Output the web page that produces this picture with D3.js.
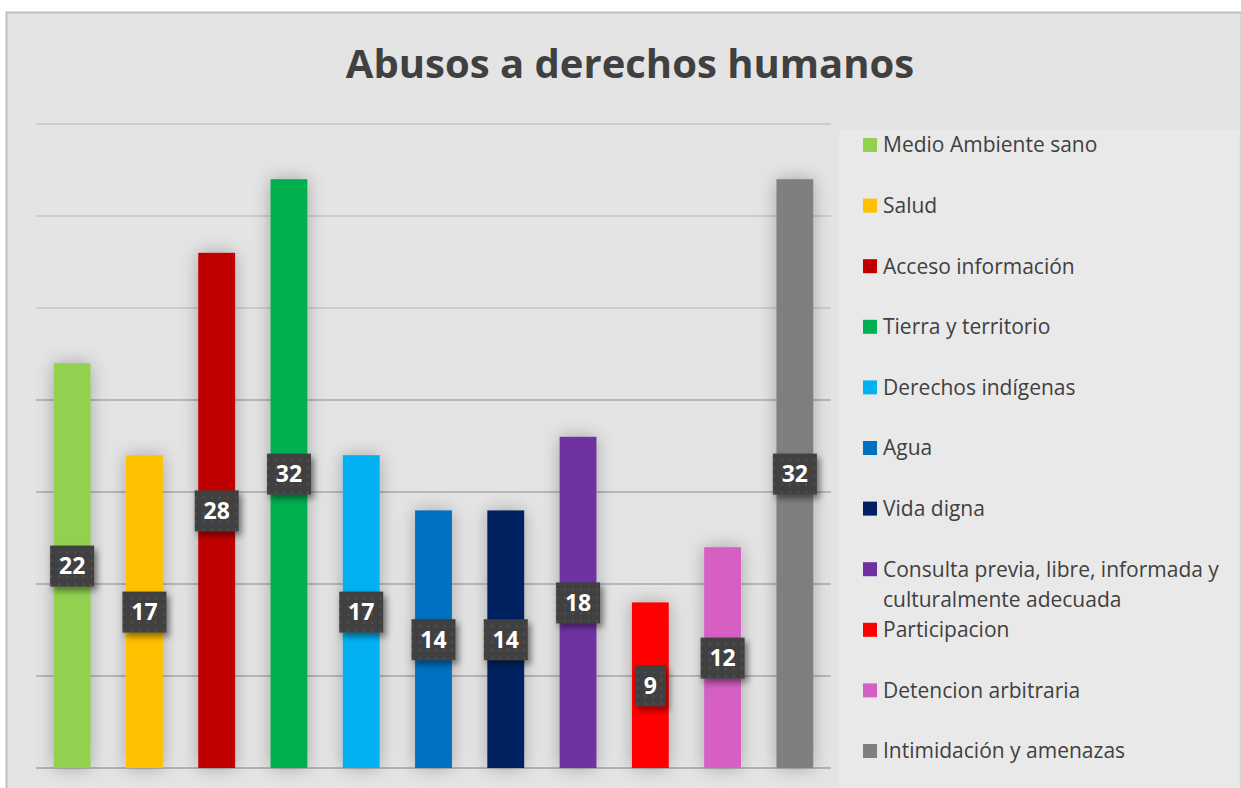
<!DOCTYPE html>
<html>
<head>
<meta charset="utf-8">
<script src="https://cdn.jsdelivr.net/npm/d3@7"></script>
<style>
  html, body { margin: 0; padding: 0; background: #ffffff; }
  svg { display: block; }
</style>
</head>
<body>
<div id="chart"></div>
<script>
// Abusos a derechos humanos - one bar per category, legend on the right

const title = 'Abusos a derechos humanos';

const categories = [
    'Medio Ambiente sano',
    'Salud',
    'Acceso información',
    'Tierra y territorio',
    'Derechos indígenas',
    'Agua',
    'Vida digna',
    'Consulta previa, libre, informada y culturalmente adecuada',
    'Participacion',
    'Detencion arbitraria',
    'Intimidación y amenazas'
];

const values = [22, 17, 28, 32, 17, 14, 14, 18, 9, 12, 32];

const colors = [
    '#92d050', '#ffc000', '#c00000', '#00b050', '#00b0f0',
    '#0070c0', '#002060', '#7030a0', '#ff0000', '#d55fc2', '#7f7f7f'
];

// legend lines (long label wraps in two)
const legendLines = [
    ['Medio Ambiente sano'],
    ['Salud'],
    ['Acceso información'],
    ['Tierra y territorio'],
    ['Derechos indígenas'],
    ['Agua'],
    ['Vida digna'],
    ['Consulta previa, libre, informada y', 'culturalmente adecuada'],
    ['Participacion'],
    ['Detencion arbitraria'],
    ['Intimidación y amenazas']
];

const yTicks = [0, 5, 10, 15, 20, 25, 30, 35];

const width = 1241, height = 788;
const plot = { left: 36, right: 831, top: 124, bottom: 768 };

const svg = d3.select('#chart').append('svg')
    .attr('width', width)
    .attr('height', height);

const defs = svg.append('defs');

// soft shadow for bars
const barShadow = defs.append('filter').attr('id', 'barShadow')
    .attr('x', '-80%').attr('y', '-20%').attr('width', '260%').attr('height', '140%');
barShadow.append('feDropShadow')
    .attr('dx', 0).attr('dy', 0)
    .attr('stdDeviation', 9)
    .attr('flood-color', '#000')
    .attr('flood-opacity', 0.28);

// shadow for the value boxes
const boxShadow = defs.append('filter').attr('id', 'boxShadow')
    .attr('x', '-40%').attr('y', '-40%').attr('width', '180%').attr('height', '180%');
boxShadow.append('feDropShadow')
    .attr('dx', 3).attr('dy', 4)
    .attr('stdDeviation', 3)
    .attr('flood-color', '#000')
    .attr('flood-opacity', 0.45);

// dotted texture of the value boxes
const dots = defs.append('pattern').attr('id', 'dots')
    .attr('patternUnits', 'userSpaceOnUse')
    .attr('width', 8).attr('height', 8);
dots.append('rect').attr('width', 8).attr('height', 8).attr('fill', '#3f3f3f');
dots.append('rect').attr('x', 2).attr('y', 2).attr('width', 2).attr('height', 2).attr('fill', '#535353');

// chart background + border
svg.append('rect')
    .attr('x', 6.5).attr('y', 12.5)
    .attr('width', width - 6).attr('height', height - 6)
    .attr('fill', '#e4e4e4')
    .attr('stroke', '#bfbfbf')
    .attr('stroke-width', 2);

// legend panel, slightly lighter
svg.append('rect')
    .attr('x', 839).attr('y', 130)
    .attr('width', 400).attr('height', 658)
    .attr('fill', '#e9e9e9');

// title
svg.append('text')
    .attr('x', 630).attr('y', 78)
    .attr('text-anchor', 'middle')
    .attr('font-family', '"Open Sans", sans-serif')
    .attr('font-weight', 'bold')
    .attr('font-size', 40)
    .attr('fill', '#404040')
    .text(title);

const x = d3.scaleBand()
    .domain(categories)
    .range([plot.left, plot.right])
    .paddingInner(0.49)
    .paddingOuter(0.245);

const y = d3.scaleLinear()
    .domain([0, 35])
    .range([plot.bottom, plot.top]);

// gridlines (look darker lower down, where the bar shadows pile up)
svg.append('g')
    .selectAll('line')
    .data(yTicks)
    .enter().append('line')
    .attr('x1', plot.left).attr('x2', plot.right)
    .attr('y1', d => y(d)).attr('y2', d => y(d))
    .attr('stroke', d => d === 0 ? '#a3a3a3' : (d <= 20 ? '#a8a8a8' : '#c4c4c4'))
    .attr('stroke-width', 1.5);

// bars
svg.append('g')
    .selectAll('rect')
    .data(values)
    .enter().append('rect')
    .attr('x', (d, i) => x(categories[i]))
    .attr('y', d => y(d))
    .attr('width', x.bandwidth())
    .attr('height', d => y(0) - y(d))
    .attr('fill', (d, i) => colors[i])
    .attr('filter', 'url(#barShadow)');

// value labels: dark box at the middle of each bar
const labels = svg.append('g')
    .selectAll('g')
    .data(values)
    .enter().append('g')
    .attr('transform', (d, i) => `translate(${x(categories[i]) + x.bandwidth() / 2},${(y(d) + y(0)) / 2})`);

labels.append('rect')
    .attr('x', d => -(String(d).length * 13 + 18) / 2)
    .attr('y', -20)
    .attr('width', d => String(d).length * 13 + 18)
    .attr('height', 41)
    .attr('fill', 'url(#dots)')
    .attr('filter', 'url(#boxShadow)');

labels.append('text')
    .attr('text-anchor', 'middle')
    .attr('dy', '0.37em')
    .attr('font-family', '"Open Sans", sans-serif')
    .attr('font-weight', 'bold')
    .attr('font-size', 23)
    .attr('fill', '#ffffff')
    .text(d => d);

// legend
const ly = d3.scalePoint()
    .domain(categories)
    .range([145, 751]);

const legend = svg.append('g')
    .selectAll('g')
    .data(categories)
    .enter().append('g')
    .attr('transform', d => `translate(863,${ly(d)})`);

legend.append('rect')
    .attr('x', 0).attr('y', -7)
    .attr('width', 14).attr('height', 14)
    .attr('fill', (d, i) => colors[i]);

legend.append('text')
    .attr('x', 20)
    .attr('font-family', '"Open Sans", sans-serif')
    .attr('font-size', 21)
    .attr('fill', '#404040')
    .selectAll('tspan')
    .data((d, i) => legendLines[i])
    .enter().append('tspan')
    .attr('x', 20)
    .attr('y', (d, j) => j * 30)
    .attr('dy', '0.35em')
    .text(d => d);
</script>
</body>
</html>
